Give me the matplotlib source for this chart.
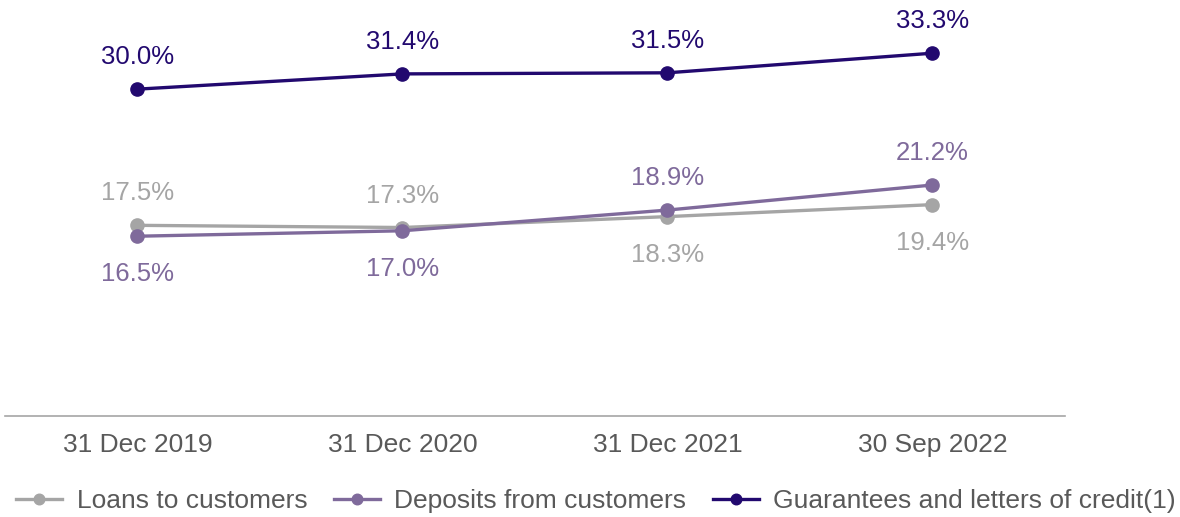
import matplotlib
matplotlib.use('Agg')
import matplotlib.pyplot as plt

plt.rcParams['font.family'] = ['Liberation Sans', 'DejaVu Sans']

periods = ['31 Dec 2019', '31 Dec 2020', '31 Dec 2021', '30 Sep 2022']
loans = [17.5, 17.3, 18.3, 19.4]
deposits = [16.5, 17.0, 18.9, 21.2]
guarantees = [30.0, 31.4, 31.5, 33.3]

# label placement: +1 above, -1 below
loans_pos = [1, 1, -1, -1]
deposits_pos = [-1, -1, 1, 1]
guarantees_pos = [1, 1, 1, 1]

series = [
    ('Loans to customers', loans, loans_pos, '#A5A5A5'),
    ('Deposits from customers', deposits, deposits_pos, '#7F6A9B'),
    ('Guarantees and letters of credit(1)', guarantees, guarantees_pos, '#22096F'),
]

fig = plt.figure(figsize=(11.8, 5.17), dpi=100)
ax = fig.add_axes([0.0042, 0.1954, 0.8983, 0.7586])
x = list(range(len(periods)))

for name, vals, pos, col in series:
    ax.plot(x, vals, color=col, lw=2.4, marker='o', ms=9.5, label=name)
    for xi, v, p in zip(x, vals, pos):
        off = 32 if p > 0 else -38
        ax.annotate(f'{v:.1f}%', (xi, v), xytext=(0, off), textcoords='offset pixels',
                    ha='center', va='center', fontsize=18.5, color=col)

ax.set_xlim(-0.5, 3.5)
ax.set_ylim(0, 36)
ax.set_xticks(x)
ax.set_xticklabels(periods, fontsize=19, color='#595959')
ax.set_yticks([])
ax.tick_params(axis='x', length=0, pad=12)
for s in ['top', 'right', 'left']:
    ax.spines[s].set_visible(False)
ax.spines['bottom'].set_color('#A6A6A6')
ax.spines['bottom'].set_linewidth(1.2)

leg = fig.legend(loc='lower center', ncol=3, frameon=False, fontsize=19,
                 bbox_to_anchor=(0.505, -0.038), handlelength=1.75, columnspacing=1.0,
                 handletextpad=0.55, markerscale=0.8)
for t in leg.get_texts():
    t.set_color('#595959')

fig.savefig('out.png', dpi=100)
